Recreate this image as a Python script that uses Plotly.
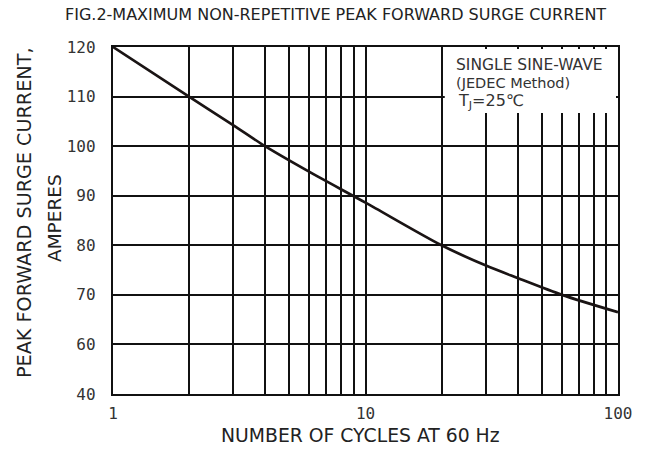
import plotly.graph_objects as go

# Data
cycles = [1, 2, 3, 4, 6, 10, 20, 30, 40, 60, 100]
current = [120, 110, 104.2, 100, 94.8, 88.6, 80, 75.9, 73.4, 70, 66.5]

x_tickvals = [1, 10, 100]
x_ticktext = ["1", "10", "100"]
x_minorvals = [2, 3, 4, 5, 6, 7, 8, 9, 20, 30, 40, 50, 60, 70, 80, 90]
y_tickvals = [50, 60, 70, 80, 90, 100, 110, 120]
y_ticktext = ["40", "60", "70", "80", "90", "100", "110", "120"]

title_text = "FIG.2-MAXIMUM NON-REPETITIVE PEAK FORWARD SURGE CURRENT"
ytitle_lines = ["PEAK FORWARD SURGE CURRENT,", "AMPERES"]
xtitle_text = "NUMBER OF CYCLES AT 60 Hz"
note_lines = ["SINGLE SINE-WAVE", "(JEDEC Method)", "T<sub>J</sub>=25℃"]

# layout geometry (page body margin removed in post_script)
L, T, PW, PH = 113, 47, 505, 347
W, H = 651, 449
R = W - L - PW
B = H - T - PH


def px(xpage):
    return (xpage - L) / PW


def py(ypage):
    return 1 - (ypage - T) / PH


SANS = "DejaVu Sans, Verdana, sans-serif"
TXT = "#222222"
GRID = "#111111"
GW = 2

fig = go.Figure()
fig.add_trace(go.Scatter(
    x=cycles, y=current, mode="lines",
    line=dict(color="#1a1414", width=2.7, shape="spline", smoothing=0.8),
    hoverinfo="skip", showlegend=False,
))

# white box behind note (covers grid in the top-right)
fig.add_shape(type="rect", xref="x", yref="y",
              x0=20.6, x1=98.2, y0=106.7, y1=119.6,
              fillcolor="white", line=dict(width=0), layer="above")

# note text
note_specs = [(454, 65, 15.5), (454, 83, 14.5), (456, 101, 16)]
for line, (xp, yp, sz) in zip(note_lines, note_specs):
    fig.add_annotation(
        x=px(xp), y=py(yp), xref="paper", yref="paper", xanchor="left", yanchor="middle",
        text=line, showarrow=False, align="left",
        font=dict(family=SANS, size=sz, color="#333333"),
    )

# title
fig.add_annotation(
    x=px(335), y=py(14.5), xref="paper", yref="paper", xanchor="center", yanchor="middle",
    text=title_text, showarrow=False,
    font=dict(family=SANS, size=16, color=TXT),
)
# y title (two lines)
fig.add_annotation(
    x=px(25), y=py(213), xref="paper", yref="paper", xanchor="center", yanchor="middle",
    text=ytitle_lines[0], showarrow=False, textangle=-90,
    font=dict(family=SANS, size=19.2, color=TXT),
)
fig.add_annotation(
    x=px(54), y=py(218), xref="paper", yref="paper", xanchor="center", yanchor="middle",
    text=ytitle_lines[1], showarrow=False, textangle=-90,
    font=dict(family=SANS, size=18.5, color=TXT),
)
# x title
fig.add_annotation(
    x=px(360), y=py(436), xref="paper", yref="paper", xanchor="center", yanchor="middle",
    text=xtitle_text, showarrow=False,
    font=dict(family=SANS, size=18.8, color=TXT),
)

axis_common = dict(
    showgrid=True, gridcolor=GRID, gridwidth=GW,
    showline=True, linecolor=GRID, linewidth=2.2, mirror=True,
    ticks="", zeroline=False, automargin=False,
    tickfont=dict(family="DejaVu Sans Mono, monospace", size=16, color="#333333"),
)

fig.update_layout(
    width=W, height=H,
    margin=dict(l=L, r=R, t=T, b=B),
    paper_bgcolor="white", plot_bgcolor="white",
    xaxis=dict(type="log", range=[0, 2], tickvals=x_tickvals, ticktext=x_ticktext,
               ticklabelstandoff=4,
               minor=dict(tickvals=x_minorvals, showgrid=True, gridcolor=GRID,
                          gridwidth=GW, ticks=""),
               **axis_common),
    yaxis=dict(range=[50, 120], tickvals=y_tickvals, ticktext=y_ticktext,
               ticklabelstandoff=12, **axis_common),
)

fig.write_html("out.html", config={"displayModeBar": False, "staticPlot": True},
               post_script="document.body.style.margin='0';")
